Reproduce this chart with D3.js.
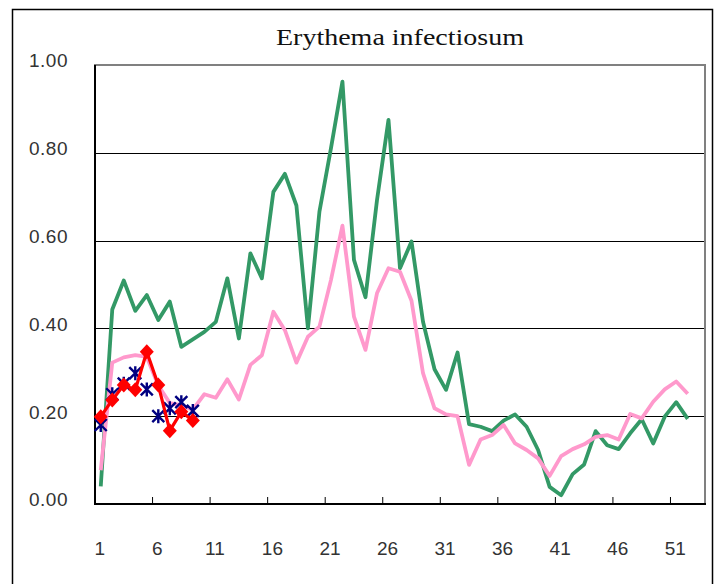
<!DOCTYPE html>
<html>
<head>
<meta charset="utf-8">
<script src="https://cdn.jsdelivr.net/npm/d3@7"></script>
<style>
  html, body { margin: 0; padding: 0; background: #fff; }
  svg { display: block; }
</style>
</head>
<body>
<svg id="chart" width="723" height="584"></svg>
<script>
// ---- data ----
const title = "Erythema infectiosum";
const weeks = d3.range(1, 54).map(String);               // 53 week categories
const xTickLabels = ["1","6","11","16","21","26","31","36","41","46","51"];
const yTicks = [0, 0.2, 0.4, 0.6, 0.8, 1.0];

const seriesGreen = [0.04,0.443,0.509,0.44,0.476,0.419,0.461,0.358,0.375,0.392,
  0.415,0.514,0.377,0.571,0.514,0.711,0.752,0.68,0.40,0.666,
  0.81,0.962,0.556,0.471,0.692,0.875,0.537,0.598,0.415,0.307,
  0.26,0.345,0.182,0.176,0.166,0.19,0.204,0.176,0.123,0.039,
  0.02,0.068,0.09,0.166,0.134,0.125,0.161,0.193,0.138,0.199,
  0.232,0.194];
const seriesPink = [0.077,0.322,0.334,0.339,0.335,0.27,0.23,0.225,0.215,0.25,
  0.242,0.284,0.238,0.317,0.339,0.438,0.396,0.322,0.381,0.404,
  0.51,0.634,0.427,0.351,0.48,0.537,0.529,0.463,0.298,0.218,
  0.204,0.2,0.089,0.147,0.157,0.18,0.138,0.123,0.104,0.064,
  0.109,0.125,0.136,0.153,0.157,0.147,0.205,0.195,0.233,0.261,
  0.279,0.251];
const seriesRed  = [0.199,0.237,0.271,0.26,0.347,0.271,0.167,0.21,0.19];
const seriesBlue = [0.18,0.25,0.274,0.298,0.261,0.2,0.218,0.232,0.212];

// ---- layout ----
const svg = d3.select("#chart");
const L = 95, R = 705, T = 65, B = 504;

const x = d3.scaleBand().domain(weeks).range([L, R]).padding(0);
const cx = w => x(String(w)) + x.bandwidth() / 2;
const y = d3.scaleLinear().domain([0, 1]).range([B, T]);

// outer frame
svg.append("rect").attr("x", 12.5).attr("y", 9.5).attr("width", 700).attr("height", 590)
  .attr("fill", "#fff").attr("stroke", "#000").attr("stroke-width", 1.5);

// title
svg.append("text").attr("x", 400).attr("y", 45).attr("text-anchor", "middle")
  .attr("font-family", "'Liberation Serif', 'DejaVu Serif', serif")
  .attr("font-size", 24).attr("fill", "#111")
  .attr("textLength", 248).attr("lengthAdjust", "spacingAndGlyphs")
  .text(title);

// gridlines
svg.append("g").selectAll("line").data(yTicks.filter(v => v > 0 && v < 1)).join("line")
  .attr("x1", L).attr("x2", R).attr("y1", d => Math.round(y(d)) + 0.5).attr("y2", d => Math.round(y(d)) + 0.5)
  .attr("stroke", "#000").attr("stroke-width", 1);

// plot border (gray)
svg.append("rect").attr("x", L).attr("y", T).attr("width", R - L).attr("height", B - T)
  .attr("fill", "none").attr("stroke", "#808080").attr("stroke-width", 2);

// y axis labels
const yAxis = d3.axisLeft(y).tickValues(yTicks).tickSize(0).tickPadding(0).tickFormat(d3.format(".2f"));
const gy = svg.append("g").attr("transform", `translate(68,0)`).call(yAxis);
gy.select(".domain").remove();
gy.selectAll("text").attr("font-family", "'Liberation Sans', Arial, sans-serif")
  .attr("font-size", 19).attr("fill", "#333").attr("letter-spacing", 0.5).attr("dy", "0.1em");

// x axis: labels at week centers
const xAxis = d3.axisBottom(x).tickValues(xTickLabels).tickSize(0).tickPadding(0);
const gx = svg.append("g").attr("transform", `translate(-1,${B + 37})`).call(xAxis);
gx.select(".domain").remove();
gx.selectAll("text").attr("font-family", "'Liberation Sans', Arial, sans-serif")
  .attr("font-size", 19).attr("fill", "#333");

// x tick marks between categories every 5 weeks
const boundaryWeeks = xTickLabels.slice(1);
svg.append("g").selectAll("line").data(boundaryWeeks).join("line")
  .attr("x1", d => x(d)).attr("x2", d => x(d)).attr("y1", B).attr("y2", B - 7)
  .attr("stroke", "#000").attr("stroke-width", 1);

// axes lines (black)
svg.append("line").attr("x1", L).attr("x2", L).attr("y1", T).attr("y2", B + 1)
  .attr("stroke", "#000").attr("stroke-width", 2);
svg.append("line").attr("x1", L - 1).attr("x2", R + 1).attr("y1", B).attr("y2", B)
  .attr("stroke", "#000").attr("stroke-width", 2);

// lines
const line = d3.line().x((d, i) => cx(i + 1)).y(d => y(d));

svg.append("path").datum(seriesGreen).attr("d", line)
  .attr("fill", "none").attr("stroke", "#339966").attr("stroke-width", 3.8).attr("stroke-linejoin", "round");
svg.append("path").datum(seriesPink).attr("d", line)
  .attr("fill", "none").attr("stroke", "#ff99cc").attr("stroke-width", 3.8).attr("stroke-linejoin", "round");

// blue asterisks
const star = "M-6,-6L6,6M-6,6L6,-6M0,-7L0,7";
svg.append("g").selectAll("path").data(seriesBlue).join("path")
  .attr("transform", (d, i) => `translate(${cx(i + 1)},${y(d)})`)
  .attr("d", star).attr("fill", "none").attr("stroke", "#000080").attr("stroke-width", 2.4);

// red line with diamonds
svg.append("path").datum(seriesRed).attr("d", line)
  .attr("fill", "none").attr("stroke", "#ff0000").attr("stroke-width", 3.2).attr("stroke-linejoin", "round");
svg.append("g").selectAll("path").data(seriesRed).join("path")
  .attr("transform", (d, i) => `translate(${cx(i + 1)},${y(d)})`)
  .attr("d", "M0,-7.5L7,0L0,7.5L-7,0Z").attr("fill", "#ff0000");
</script>
</body>
</html>
